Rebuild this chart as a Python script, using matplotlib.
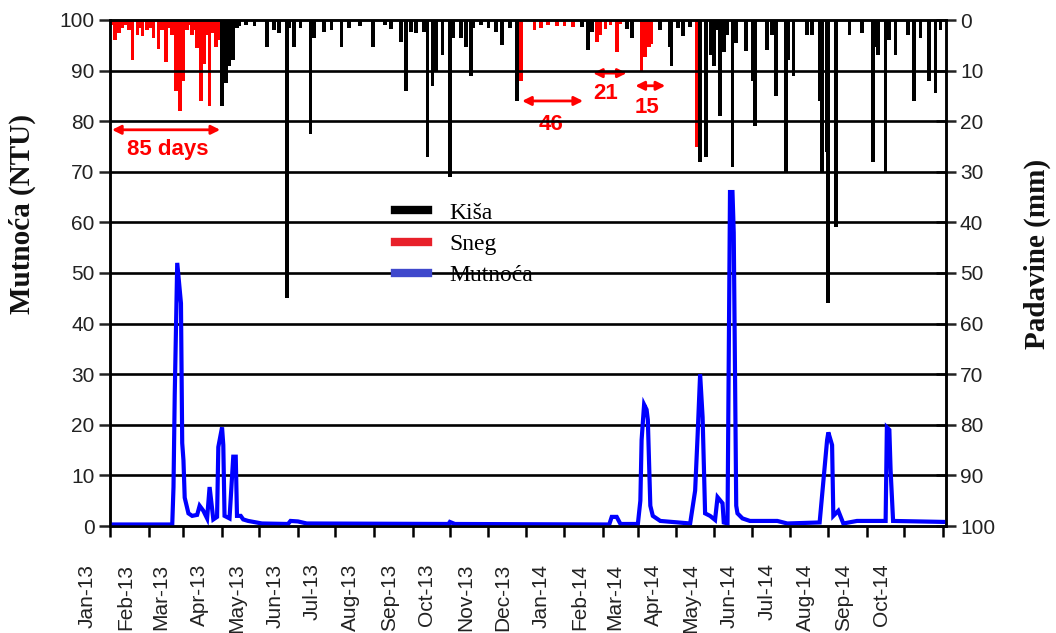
import matplotlib
matplotlib.use("Agg")
import matplotlib.pyplot as plt
import matplotlib.dates as mdates
import matplotlib.transforms as mtransforms
from matplotlib.lines import Line2D
import numpy as np

# ---------------- data ----------------
# Snow (Sneg) daily precipitation, mm
snow_dates = ["2013-01-02", "2013-01-05", "2013-01-08", "2013-01-11", "2013-01-14", "2013-01-16",
              "2013-01-19", "2013-01-23", "2013-01-25", "2013-01-27", "2013-01-31", "2013-02-01",
              "2013-02-03", "2013-02-05", "2013-02-09", "2013-02-12", "2013-02-15", "2013-02-18",
              "2013-02-20", "2013-02-23", "2013-02-26", "2013-03-01", "2013-03-04", "2013-03-06",
              "2013-03-08", "2013-03-10", "2013-03-12", "2013-03-15", "2013-03-18", "2013-03-20",
              "2013-03-22", "2013-03-25", "2013-03-27", "2013-03-29",
              "2013-11-27", "2013-12-08", "2013-12-13", "2013-12-19", "2013-12-26", "2014-01-01",
              "2014-01-08", "2014-01-27", "2014-01-30", "2014-02-03", "2014-02-07", "2014-02-12",
              "2014-02-15", "2014-03-04", "2014-03-07", "2014-03-10", "2014-03-12", "2014-04-17"]
snow_mm = [1.0, 4.0, 2.5, 1.6, 1.0, 2.0,
           8.0, 3.0, 1.5, 3.2, 2.0, 1.0,
           1.5, 3.5, 5.7, 2.0, 8.3, 1.5,
           3.0, 14.0, 18.0, 12.0, 2.0, 1.0,
           3.0, 2.0, 5.5, 16.0, 8.6, 3.0,
           17.0, 2.5, 5.4, 4.0,
           12.0, 2.0, 1.5, 1.0, 1.2, 1.2,
           1.3, 4.3, 3.0, 1.7, 1.0, 6.4,
           0.8, 10.0, 7.3, 5.4, 4.8, 25.0]

# Rain (Kiša) daily precipitation, mm
rain_dates = ["2013-04-01", "2013-04-04", "2013-04-07", "2013-04-10", "2013-04-13", "2013-04-15",
              "2013-04-20", "2013-04-27", "2013-05-07", "2013-05-13", "2013-05-17", "2013-05-23",
              "2013-05-25", "2013-05-29", "2013-06-03", "2013-06-11", "2013-06-14", "2013-06-22",
              "2013-06-28", "2013-07-06", "2013-07-12", "2013-07-21", "2013-07-31", "2013-08-10",
              "2013-08-15", "2013-08-23", "2013-08-27", "2013-08-31", "2013-09-04", "2013-09-10",
              "2013-09-13", "2013-09-17", "2013-09-20", "2013-09-25", "2013-10-01", "2013-10-04",
              "2013-10-10", "2013-10-14", "2013-10-18", "2013-10-20", "2013-10-26", "2013-11-01",
              "2013-11-07", "2013-11-12", "2013-11-18", "2013-11-24",
              "2014-01-15", "2014-01-20", "2014-01-23", "2014-02-20", "2014-02-24", "2014-03-19",
              "2014-03-27", "2014-03-28", "2014-04-02", "2014-04-06", "2014-04-12", "2014-04-20",
              "2014-04-25", "2014-04-29", "2014-05-01", "2014-05-03", "2014-05-06", "2014-05-09",
              "2014-05-12", "2014-05-16", "2014-05-19", "2014-05-27", "2014-06-01", "2014-06-03",
              "2014-06-13", "2014-06-17", "2014-06-20", "2014-06-28", "2014-06-30", "2014-07-04",
              "2014-07-15", "2014-07-19", "2014-07-25", "2014-07-27", "2014-07-31", "2014-08-01",
              "2014-08-07", "2014-08-18", "2014-08-28", "2014-09-06", "2014-09-08", "2014-09-10",
              "2014-09-16", "2014-09-19", "2014-09-24", "2014-10-04", "2014-10-09", "2014-10-14",
              "2014-10-21", "2014-10-26", "2014-10-30"]
rain_mm = [17.0, 12.5, 9.0, 8.0, 1.5, 1.2,
           1.0, 1.2, 5.4, 2.0, 2.5, 55.0,
           1.5, 5.4, 1.5, 22.6, 3.5, 2.3,
           2.0, 5.4, 1.5, 1.2, 5.4, 1.0,
           1.8, 4.3, 14.0, 2.3, 2.5, 2.3,
           27.0, 13.0, 10.0, 7.0, 31.0, 3.5,
           3.5, 5.4, 11.0, 1.5, 1.0, 1.5,
           2.3, 5.0, 1.5, 16.0,
           1.3, 6.0, 2.3, 1.7, 3.5, 1.9,
           5.4, 9.0, 1.6, 3.2, 1.3, 28.0,
           27.0, 7.0, 9.0, 2.0, 19.0, 6.4,
           3.0, 29.0, 4.5, 6.2, 12.0, 21.0,
           6.0, 3.0, 15.0, 30.0, 8.0, 11.0,
           3.0, 3.0, 16.0, 30.0, 26.0, 56.0,
           41.0, 3.0, 2.5, 28.0, 5.4, 7.0,
           30.0, 4.0, 7.0, 3.0, 16.0, 3.5,
           12.0, 14.5, 2.0]

# Turbidity (Mutnoća), NTU
turb_dates = ["2013-01-01", "2013-02-20", "2013-02-21", "2013-02-22", "2013-02-24", "2013-02-27",
              "2013-02-28", "2013-03-01", "2013-03-02", "2013-03-05", "2013-03-08", "2013-03-12",
              "2013-03-14", "2013-03-17", "2013-03-20", "2013-03-22", "2013-03-25", "2013-03-28",
              "2013-03-29", "2013-04-01", "2013-04-02", "2013-04-03", "2013-04-07", "2013-04-10",
              "2013-04-12", "2013-04-13", "2013-04-16", "2013-04-18", "2013-04-22", "2013-05-03",
              "2013-05-24", "2013-05-26", "2013-06-01", "2013-06-08", "2013-09-30", "2013-10-01",
              "2013-10-05", "2014-02-06", "2014-02-08", "2014-02-12", "2014-02-15", "2014-03-01",
              "2014-03-03", "2014-03-04", "2014-03-06", "2014-03-08", "2014-03-09", "2014-03-11",
              "2014-03-13", "2014-03-19", "2014-04-12", "2014-04-16", "2014-04-18", "2014-04-20",
              "2014-04-22", "2014-04-24", "2014-04-28", "2014-05-02", "2014-05-04", "2014-05-08",
              "2014-05-09", "2014-05-12", "2014-05-14", "2014-05-16", "2014-05-17", "2014-05-19",
              "2014-05-20", "2014-05-24", "2014-05-30", "2014-06-21", "2014-06-29", "2014-07-25",
              "2014-07-31", "2014-08-01", "2014-08-04", "2014-08-05", "2014-08-09", "2014-08-13",
              "2014-08-24", "2014-09-16", "2014-09-17", "2014-09-19", "2014-09-20", "2014-09-22",
              "2014-11-03"]
turb_ntu = [0.3, 0.3, 7.7, 26.0, 52.0, 44.0,
            16.4, 13.0, 5.6, 2.5, 2.0, 2.2,
            4.0, 3.0, 1.5, 7.7, 1.3, 1.8,
            15.6, 19.5, 16.0, 2.0, 1.5, 13.7,
            13.7, 2.0, 2.0, 1.3, 1.0, 0.5,
            0.4, 1.0, 0.9, 0.5, 0.4, 0.8,
            0.4, 0.3, 1.8, 1.8, 0.4, 0.4,
            5.0, 17.0, 24.0, 23.0, 21.0, 4.0,
            2.0, 1.0, 0.5, 7.0, 18.0, 30.0,
            21.5, 2.5, 2.0, 1.2, 5.7, 4.5,
            0.7, 0.5, 66.0, 66.0, 58.0, 4.0,
            2.5, 1.5, 1.0, 1.0, 0.5, 0.7,
            17.0, 18.5, 16.0, 2.0, 3.0, 0.5,
            1.0, 1.0, 19.5, 19.0, 11.0, 1.0,
            0.8]

month_labels = ["Jan-13", "Feb-13", "Mar-13", "Apr-13", "May-13", "Jun-13", "Jul-13", "Aug-13",
                "Sep-13", "Oct-13", "Nov-13", "Dec-13", "Jan-14", "Feb-14", "Mar-14", "Apr-14",
                "May-14", "Jun-14", "Jul-14", "Aug-14", "Sep-14", "Oct-14", ""]
month_starts = ["2013-01-01", "2013-02-01", "2013-03-01", "2013-04-01", "2013-05-01", "2013-06-01",
                "2013-07-01", "2013-08-01", "2013-09-01", "2013-10-01", "2013-11-01", "2013-12-01",
                "2014-01-01", "2014-02-01", "2014-03-01", "2014-04-01", "2014-05-01", "2014-06-01",
                "2014-07-01", "2014-08-01", "2014-09-01", "2014-10-01", "2014-11-01"]

# ---------------- figure ----------------
W, H = 1056, 633
fig = plt.figure(figsize=(W / 100, H / 100), dpi=100)
ax = fig.add_axes([110 / W, 1 - 526 / H, (946 - 110) / W, (526 - 20) / H])
ax2 = ax.twinx()

d2n = lambda lst: np.array([mdates.datestr2num(s) for s in lst])

x_snow = d2n(snow_dates)
x_rain = d2n(rain_dates)
x_turb = d2n(turb_dates)

ax2.bar(x_rain, rain_mm, width=3.0, color="black", linewidth=0, align="center")
ax2.bar(x_snow, snow_mm, width=3.0, color="#ff0000", linewidth=0, align="center")
ax2.set_ylim(100, 0)

ax.plot(x_turb, turb_ntu, color="#0000ff", lw=3.0, solid_joinstyle="miter")
ax.set_ylim(0, 100)

x0 = mdates.datestr2num("2013-01-01")
ax.set_xlim(x0, x0 + 671.5)

# layering: turbidity over bars
ax.set_zorder(ax2.get_zorder() + 1)
ax.patch.set_visible(False)

# grid
ax.set_yticks(np.arange(0, 101, 10))
ax2.set_yticks(np.arange(0, 101, 10))
for v in range(10, 100, 10):
    ax.axhline(v, color="black", lw=1.9, zorder=1)

# spines
for a in (ax, ax2):
    for s in a.spines.values():
        s.set_linewidth(1.8)
        s.set_color("black")

ax.tick_params(axis="y", direction="out", length=8, width=1.8, pad=3, labelsize=15, colors="#222222")
ax2.tick_params(axis="y", direction="inout", length=14, width=1.8, pad=3, labelsize=15, colors="#222222")
for lab in ax.get_yticklabels() + ax2.get_yticklabels():
    lab.set_family("Liberation Sans")

ax.set_xticks(d2n(month_starts))
ax.set_xticklabels(month_labels, rotation=90, fontfamily="Liberation Sans", fontsize=15, color="#222222")
ax.tick_params(axis="x", direction="out", length=8, width=1.8, pad=19)
offset = mtransforms.ScaledTranslation(-23 / 100, 0, fig.dpi_scale_trans)
for lab in ax.get_xticklabels():
    lab.set_transform(lab.get_transform() + offset)

# axis titles
fig.text(22 / W, 1 - 214 / H, "Mutnoća (NTU)", rotation=90, ha="center", va="center",
         family="Liberation Serif", weight="bold", size=21, color="#111111")
fig.text(1037 / W, 1 - 254 / H, "Padavine (mm)", rotation=90, ha="center", va="center",
         family="Liberation Serif", weight="bold", size=21, color="#111111")

# legend
handles = [Line2D([], [], color="black", lw=6),
           Line2D([], [], color="#e8202a", lw=6),
           Line2D([], [], color="#3f48cc", lw=6)]
ax.legend(handles, ["Kiša", "Sneg", "Mutnoća"], loc="upper left",
          bbox_to_anchor=(395 / W, 1 - 202 / H), bbox_transform=fig.transFigure,
          frameon=False, borderpad=0, borderaxespad=0, handlelength=1.4,
          handletextpad=0.9, labelspacing=0.42,
          prop=dict(family="Liberation Serif", size=17))

# annotations (on precipitation axis)
arrow = dict(arrowstyle="<|-|>", color="#ff0000", lw=2, mutation_scale=13, shrinkA=0, shrinkB=0)
afont = dict(family="Liberation Sans", weight="bold", size=16, color="#ff0000")

def span(start_day, end_day, y_arrow, text, text_day, y_text):
    ax2.annotate("", xy=(x0 + end_day, y_arrow), xytext=(x0 + start_day, y_arrow), arrowprops=arrow)
    ax2.text(x0 + text_day, y_text, text, ha="center", va="center", **afont)

span(1.6, 88.5, 21.7, "85 days", 46, 25.6)
span(331, 380, 16.0, "46", 354, 20.6)
span(388, 415, 10.5, "21", 398, 14.6)
span(422, 446, 13.0, "15", 431, 17.2)

fig.savefig("out.png", dpi=100)
